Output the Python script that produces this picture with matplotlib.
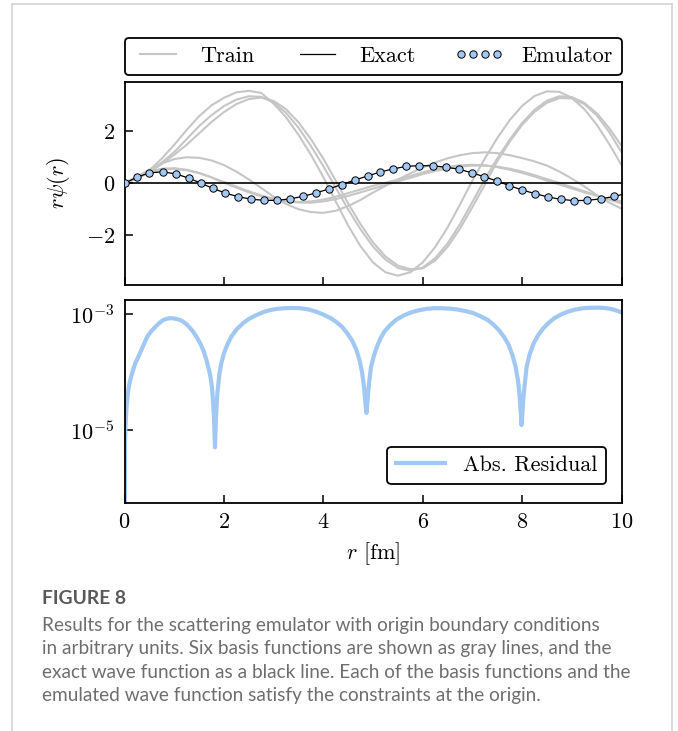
import matplotlib
matplotlib.use("Agg")
import matplotlib.pyplot as plt
from matplotlib.lines import Line2D
from matplotlib.ticker import NullLocator

plt.rcParams.update({
    "font.family": "serif",
    "font.serif": ["cmr10"],
    "mathtext.fontset": "cm",
    "axes.formatter.use_mathtext": True,
    "axes.unicode_minus": True,
})

# ---------------- data ----------------
r_grid = [0.00, 0.25, 0.50, 0.75, 1.00, 1.25, 1.50, 1.75, 2.00, 2.25,
          2.50, 2.75, 3.00, 3.25, 3.50, 3.75, 4.00, 4.25, 4.50, 4.75,
          5.00, 5.25, 5.50, 5.75, 6.00, 6.25, 6.50, 6.75, 7.00, 7.25,
          7.50, 7.75, 8.00, 8.25, 8.50, 8.75, 9.00, 9.25, 9.50, 9.75, 10.00]

train_a = [0.00, 0.20, 0.49, 0.95, 1.48, 2.05, 2.58, 3.00, 3.29, 3.50,
           3.56, 3.48, 3.07, 2.54, 1.87, 1.10, 0.24, -0.70, -1.63, -2.43,
           -3.05, -3.43, -3.56, -3.43, -3.05, -2.46, -1.71, -0.82, 0.10, 0.95,
           1.74, 2.43, 2.98, 3.36, 3.54, 3.52, 3.29, 2.86, 2.26, 1.52, 0.70]
train_b = [0.00, 0.18, 0.45, 0.80, 1.20, 1.70, 2.20, 2.62, 2.97, 3.22,
           3.35, 3.33, 3.11, 2.71, 2.14, 1.44, 0.66, -0.17, -1.01, -1.78,
           -2.44, -2.94, -3.26, -3.37, -3.25, -2.89, -2.32, -1.58, -0.72, 0.16,
           0.95, 1.68, 2.32, 2.83, 3.18, 3.35, 3.32, 3.10, 2.70, 2.13, 1.44]
train_c = [0.00, 0.17, 0.42, 0.74, 1.10, 1.48, 1.92, 2.36, 2.74, 3.05,
           3.24, 3.30, 3.17, 2.85, 2.35, 1.70, 0.95, 0.10, -0.78, -1.58,
           -2.28, -2.82, -3.17, -3.31, -3.28, -2.98, -2.45, -1.75, -0.92, -0.05,
           0.85, 1.60, 2.25, 2.75, 3.10, 3.28, 3.27, 3.05, 2.62, 1.98, 1.20]
train_d = [0.00, 0.25, 0.52, 0.76, 0.93, 1.00, 0.98, 0.88, 0.70, 0.45,
           0.15, -0.18, -0.52, -0.80, -1.00, -1.11, -1.14, -1.06, -0.88, -0.64,
           -0.36, -0.10, 0.14, 0.38, 0.60, 0.80, 0.96, 1.08, 1.16, 1.19,
           1.16, 1.08, 0.97, 0.84, 0.68, 0.45, 0.18, -0.12, -0.45, -0.74, -0.98]
train_e = [0.00, 0.24, 0.45, 0.56, 0.58, 0.52, 0.40, 0.22, 0.02, -0.17,
           -0.35, -0.50, -0.62, -0.69, -0.72, -0.70, -0.63, -0.52, -0.38, -0.24,
           -0.10, 0.02, 0.14, 0.28, 0.42, 0.54, 0.63, 0.69, 0.71, 0.69,
           0.62, 0.52, 0.40, 0.26, 0.10, -0.05, -0.20, -0.35, -0.48, -0.60, -0.70]
train_f = [0.00, 0.22, 0.42, 0.53, 0.55, 0.50, 0.39, 0.23, 0.05, -0.13,
           -0.31, -0.47, -0.60, -0.69, -0.74, -0.75, -0.70, -0.61, -0.49, -0.35,
           -0.21, -0.07, 0.07, 0.21, 0.35, 0.47, 0.57, 0.64, 0.68, 0.68,
           0.64, 0.56, 0.45, 0.31, 0.16, 0.01, -0.15, -0.31, -0.47, -0.63, -0.78]
train_curves = [train_a, train_b, train_c, train_d, train_e, train_f]

r_emulator = [0.00, 0.25, 0.50, 0.77, 1.03, 1.29, 1.54, 1.78, 2.03, 2.29,
              2.54, 2.81, 3.07, 3.34, 3.60, 3.86, 4.11, 4.37, 4.63, 4.89,
              5.14, 5.40, 5.67, 5.93, 6.20, 6.46, 6.73, 6.99, 7.24, 7.50,
              7.74, 8.00, 8.26, 8.52, 8.78, 9.05, 9.31, 9.58, 9.85]
psi_emulator = [0.00, 0.23, 0.40, 0.44, 0.36, 0.20, 0.00, -0.20, -0.38, -0.52,
                -0.61, -0.66, -0.66, -0.60, -0.50, -0.37, -0.22, -0.05, 0.12, 0.28,
                0.43, 0.55, 0.65, 0.68, 0.67, 0.62, 0.54, 0.40, 0.25, 0.08,
                -0.09, -0.26, -0.40, -0.53, -0.62, -0.67, -0.66, -0.60, -0.51]
r_exact = r_emulator + [10.00]
psi_exact = psi_emulator + [-0.44]

r_resid = [0.000, 0.010, 0.020, 0.040, 0.070, 0.100, 0.150, 0.220, 0.310, 0.380,
           0.460, 0.540, 0.620, 0.700, 0.770, 0.850, 0.920, 1.000, 1.080, 1.160,
           1.230, 1.300, 1.380, 1.460, 1.540, 1.600, 1.650, 1.700, 1.730, 1.760,
           1.780, 1.800, 1.820, 1.840, 1.870, 1.910, 1.950, 2.000, 2.070, 2.150,
           2.260, 2.380, 2.500, 2.620, 2.770, 2.920, 3.080, 3.230, 3.380, 3.540,
           3.700, 3.850, 4.000, 4.150, 4.270, 4.380, 4.480, 4.580, 4.660, 4.730,
           4.780, 4.820, 4.850, 4.870, 4.890, 4.920, 4.960, 5.020, 5.080, 5.150,
           5.230, 5.340, 5.460, 5.610, 5.770, 5.920, 6.080, 6.230, 6.380, 6.540,
           6.690, 6.850, 7.000, 7.150, 7.310, 7.430, 7.540, 7.640, 7.730, 7.810,
           7.870, 7.920, 7.950, 7.990, 8.030, 8.060, 8.090, 8.150, 8.230, 8.320,
           8.420, 8.530, 8.650, 8.780, 8.920, 9.080, 9.230, 9.380, 9.540, 9.660,
           9.770, 9.870, 9.960, 10.000]
resid = [1.0e-9, 6.3e-6, 1.2e-5, 2.5e-5, 4.5e-5, 6.5e-5, 9.5e-5, 1.45e-4, 2.1e-4, 2.9e-4,
         4.1e-4, 5.1e-4, 6.0e-4, 7.0e-4, 7.8e-4, 8.3e-4, 8.5e-4, 8.4e-4, 8.1e-4, 7.6e-4,
         6.9e-4, 6.0e-4, 5.0e-4, 3.9e-4, 2.95e-4, 2.2e-4, 1.6e-4, 1.1e-4, 8.3e-5, 5.5e-5,
         3.3e-5, 1.7e-5, 5.1e-6, 1.7e-5, 4.5e-5, 9.5e-5, 1.45e-4, 2.1e-4, 3.0e-4, 4.1e-4,
         5.5e-4, 6.9e-4, 8.2e-4, 9.3e-4, 1.06e-3, 1.17e-3, 1.23e-3, 1.26e-3, 1.27e-3, 1.26e-3,
         1.2e-3, 1.1e-3, 9.8e-4, 8.5e-4, 7.2e-4, 6.0e-4, 4.7e-4, 3.5e-4, 2.5e-4, 1.6e-4,
         1.0e-4, 5.5e-5, 2.8e-5, 2.0e-5, 3.3e-5, 6.5e-5, 1.23e-4, 1.95e-4, 2.75e-4, 3.8e-4,
         5.0e-4, 6.4e-4, 7.9e-4, 9.4e-4, 1.07e-3, 1.16e-3, 1.23e-3, 1.26e-3, 1.26e-3, 1.24e-3,
         1.2e-3, 1.13e-3, 1.05e-3, 9.3e-4, 7.9e-4, 6.5e-4, 5.2e-4, 4.0e-4, 2.95e-4, 1.9e-4,
         1.23e-4, 7.0e-5, 4.0e-5, 1.23e-5, 4.0e-5, 7.0e-5, 1.23e-4, 2.0e-4, 3.1e-4, 4.3e-4,
         5.6e-4, 7.0e-4, 8.5e-4, 9.8e-4, 1.1e-3, 1.2e-3, 1.26e-3, 1.28e-3, 1.29e-3, 1.27e-3,
         1.23e-3, 1.17e-3, 1.1e-3, 1.07e-3]

x_ticks = [0, 2, 4, 6, 8, 10]
y_ticks_top = [-2, 0, 2]
y_ticks_bottom = [1e-5, 1e-3]

caption_title = "FIGURE 8"
caption_lines = [
    "Results for the scattering emulator with origin boundary conditions",
    "in arbitrary units. Six basis functions are shown as gray lines, and the",
    "exact wave function as a black line. Each of the basis functions and the",
    "emulated wave function satisfy the constraints at the origin.",
]

# ---------------- figure ----------------
W, H = 678, 731
fig = plt.figure(figsize=(W / 100, H / 100), dpi=100)


def rect(x0, y0, x1, y1):
    return [x0 / W, 1 - y1 / H, (x1 - x0) / W, (y1 - y0) / H]


ax1 = fig.add_axes(rect(124.5, 82, 621.5, 285))
ax2 = fig.add_axes(rect(124.5, 299.5, 621.5, 502.5))

FS = 16
gray = "#c6c6c6"
blue = "#a0c8f2"

for i, vals in enumerate(train_curves):
    ax1.plot(r_grid, vals, color=gray, lw=1.5, zorder=1,
             label="Train" if i == 0 else None)
ax1.axhline(0, color="k", lw=1.2, zorder=2)
ax1.plot(r_exact, psi_exact, color="k", lw=0.9, zorder=3, label="Exact")
ax1.plot(r_emulator, psi_emulator, ls="none", marker="o", ms=5.3,
         mfc=blue, mec="k", mew=0.7, zorder=4, label="Emulator")

ax1.set_xlim(0, 10)
ax1.set_ylim(-3.92, 3.90)
ax1.set_xticks(x_ticks)
ax1.set_yticks(y_ticks_top)
ax1.tick_params(labelbottom=False)
ax1.set_ylabel(r"$r\psi(r)$", fontsize=FS, labelpad=10)

leg1 = ax1.legend(loc="lower left", bbox_to_anchor=(0, 1.034, 1, 0.2),
                  mode="expand", ncol=3, borderaxespad=0, fontsize=FS,
                  numpoints=4, fancybox=True, edgecolor="k", framealpha=1,
                  handlelength=2.2)
leg1.get_frame().set_linewidth(1.3)

ax2.semilogy(r_resid, resid, color=blue, lw=3, label="Abs. Residual")
ax2.set_xlim(0, 10)
ax2.set_ylim(10 ** -6.24, 10 ** -2.75)
ax2.set_xticks(x_ticks)
ax2.set_yticks(y_ticks_bottom)
ax2.yaxis.set_minor_locator(NullLocator())
ax2.set_xlabel(r"$r$ [fm]", fontsize=FS, labelpad=6)

leg2 = ax2.legend(loc="lower right", bbox_to_anchor=(0.969, 0.091),
                  borderaxespad=0, fontsize=FS, fancybox=True, edgecolor="k",
                  framealpha=1, handlelength=2.2)
leg2.get_frame().set_linewidth(1.3)

for ax in (ax1, ax2):
    ax.tick_params(direction="in", length=6, width=1.1, labelsize=FS,
                   top=False, right=False, pad=7)
    for s in ax.spines.values():
        s.set_linewidth(1.3)

# ---------------- page frame ----------------
fc = "#d4d4d4"
fig.add_artist(Line2D([12 / W, 12 / W], [0, 1 - 4 / H], transform=fig.transFigure,
                      color=fc, lw=1.2))
fig.add_artist(Line2D([12 / W, 672 / W], [1 - 4 / H, 1 - 4 / H],
                      transform=fig.transFigure, color=fc, lw=1.2))
fig.add_artist(Line2D([672 / W, 672 / W], [0, 1 - 4 / H], transform=fig.transFigure,
                      color=fc, lw=1.2))

# ---------------- caption ----------------
cap_font = ["Lato", "DejaVu Sans"]
title = fig.text(42 / W, 1 - 599 / H, caption_title, fontfamily=cap_font,
                 fontweight="bold", color="#5a5a5a", fontsize=12.5,
                 ha="left", va="center")
ys = [625, 648.5, 672, 695.5]
texts = []
for y, line in zip(ys, caption_lines):
    texts.append(fig.text(42 / W, 1 - y / H, line, fontfamily=cap_font,
                          fontweight="normal", color="#6e6e6e", fontsize=12.5,
                          ha="left", va="center"))

# fit caption widths to the reference
renderer = fig.canvas.get_renderer()
w0 = texts[0].get_window_extent(renderer).width
scale = 559 / w0
for t in texts:
    t.set_fontsize(12.5 * scale)
wt = title.get_window_extent(renderer).width
title.set_fontsize(12.5 * 84 / wt)

fig.savefig("out.png", dpi=100)
